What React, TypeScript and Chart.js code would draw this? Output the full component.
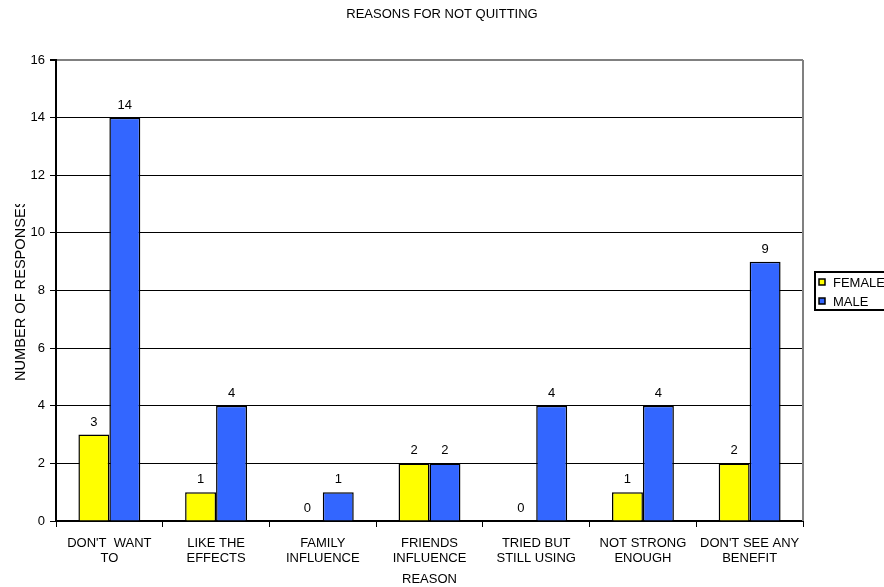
import React, { useEffect, useRef } from "react";
import { Chart, registerables } from "chart.js";

Chart.register(...registerables);

const chartTitle = "REASONS FOR NOT QUITTING";
const xAxisTitle = "REASON";
const yAxisTitle = "NUMBER OF RESPONSES";
const categories: string[][] = [
  ["DON'T  WANT", "TO"],
  ["LIKE THE", "EFFECTS"],
  ["FAMILY", "INFLUENCE"],
  ["FRIENDS", "INFLUENCE"],
  ["TRIED BUT", "STILL USING"],
  ["NOT STRONG", "ENOUGH"],
  ["DON'T SEE ANY", "BENEFIT"],
];
const femaleValues = [3, 1, 0, 2, 0, 1, 2];
const maleValues = [14, 4, 1, 2, 4, 4, 9];
const seriesNames = ["FEMALE", "MALE"];
const seriesColors = ["#FFFF00", "#3366FF"];
const yMin = 0;
const yMax = 16;
const yStep = 2;

const FONT = "'Liberation Sans', Arial, sans-serif";

const decorPlugin = {
  id: "decor",
  afterDatasetsDraw(chart: any) {
    const ctx = chart.ctx;
    const area = chart.chartArea;
    ctx.save();
    ctx.strokeStyle = "#808080";
    ctx.lineWidth = 2;
    ctx.beginPath();
    ctx.moveTo(area.right, area.top);
    ctx.lineTo(area.right, area.bottom);
    ctx.stroke();
    ctx.fillStyle = "#000";
    ctx.font = `13px ${FONT}`;
    ctx.textAlign = "center";
    ctx.textBaseline = "bottom";
    chart.data.datasets.forEach((ds: any, i: number) => {
      const meta = chart.getDatasetMeta(i);
      meta.data.forEach((bar: any, j: number) => {
        ctx.fillText(String(ds.data[j]), bar.x, bar.y - 6);
      });
    });
    ctx.restore();
  },
  afterDraw(chart: any) {
    const ctx = chart.ctx;
    const area = chart.chartArea;
    ctx.save();
    ctx.fillStyle = "#000";
    ctx.font = `13px ${FONT}`;
    ctx.textAlign = "center";
    ctx.textBaseline = "middle";
    ctx.fillText(chartTitle, chart.width / 2, 14);
    ctx.fillText(xAxisTitle, (area.left + area.right) / 2, 579);
    // y title (clipped like the original)
    ctx.save();
    ctx.beginPath();
    ctx.rect(0, 204, 40, 300);
    ctx.clip();
    ctx.font = `14.6px ${FONT}`;
    ctx.translate(20.5, 381);
    ctx.rotate(-Math.PI / 2);
    ctx.textAlign = "left";
    ctx.fillText(yAxisTitle, 0, 0);
    ctx.restore();
    // legend
    const lx = 815;
    const ly = 272;
    ctx.strokeStyle = "#000";
    ctx.lineWidth = 2;
    ctx.strokeRect(lx, ly, 90, 38);
    ctx.textAlign = "left";
    chart.data.datasets.forEach((ds: any, i: number) => {
      const cy = ly + 10 + i * 19;
      ctx.fillStyle = ds.backgroundColor;
      ctx.fillRect(lx + 4, cy - 3, 6, 6);
      ctx.lineWidth = 1.5;
      ctx.strokeRect(lx + 4, cy - 3, 6, 6);
      ctx.fillStyle = "#000";
      ctx.fillText(ds.label, lx + 18, cy + 1);
    });
    ctx.restore();
  },
};

export default function App() {
  const ref = useRef<HTMLCanvasElement | null>(null);
  useEffect(() => {
    if (!ref.current) return;
    const chart = new Chart(ref.current, {
      type: "bar",
      data: {
        labels: categories,
        datasets: [
          {
            label: seriesNames[0],
            data: femaleValues,
            backgroundColor: seriesColors[0],
            borderColor: "#000",
            borderWidth: 1.5,
            barPercentage: 1,
            categoryPercentage: 0.58,
          },
          {
            label: seriesNames[1],
            data: maleValues,
            backgroundColor: seriesColors[1],
            borderColor: "#000",
            borderWidth: 1.5,
            barPercentage: 1,
            categoryPercentage: 0.58,
          },
        ],
      },
      options: {
        responsive: false,
        animation: false,
        layout: { padding: { top: 60, right: 81, left: 0, bottom: 0 } },
        plugins: {
          legend: { display: false },
          title: { display: false },
          tooltip: { enabled: false },
        },
        scales: {
          x: {
            offset: true,
            afterFit: (s: any) => {
              s.height = 66;
            },
            grid: {
              offset: true,
              drawOnChartArea: false,
              drawTicks: true,
              tickLength: 6,
              color: "#000",
              lineWidth: 1,
            },
            border: { color: "#000", width: 2 },
            ticks: {
              color: "#000",
              font: { family: FONT, size: 13, lineHeight: 1.15 },
              padding: 9,
              maxRotation: 0,
              autoSkip: false,
            },
          },
          y: {
            min: yMin,
            max: yMax,
            afterFit: (s: any) => {
              s.width = 56;
            },
            grid: {
              color: (c: any) => (c.tick && c.tick.value === yMax ? "#808080" : "#000"),
              lineWidth: (c: any) => (c.tick && c.tick.value === yMax ? 2 : 1),
              tickLength: 6,
              tickColor: "#000",
            },
            border: { color: "#000", width: 2 },
            ticks: {
              stepSize: yStep,
              color: "#000",
              font: { family: FONT, size: 13 },
              padding: 5,
            },
          },
        },
      },
      plugins: [decorPlugin],
    });
    return () => chart.destroy();
  }, []);
  return (
    <div style={{ position: "fixed", left: 0, top: 0, width: 884, height: 587, background: "#fff" }}>
      <canvas ref={ref} width={884} height={587} style={{ display: "block" }} />
    </div>
  );
}
